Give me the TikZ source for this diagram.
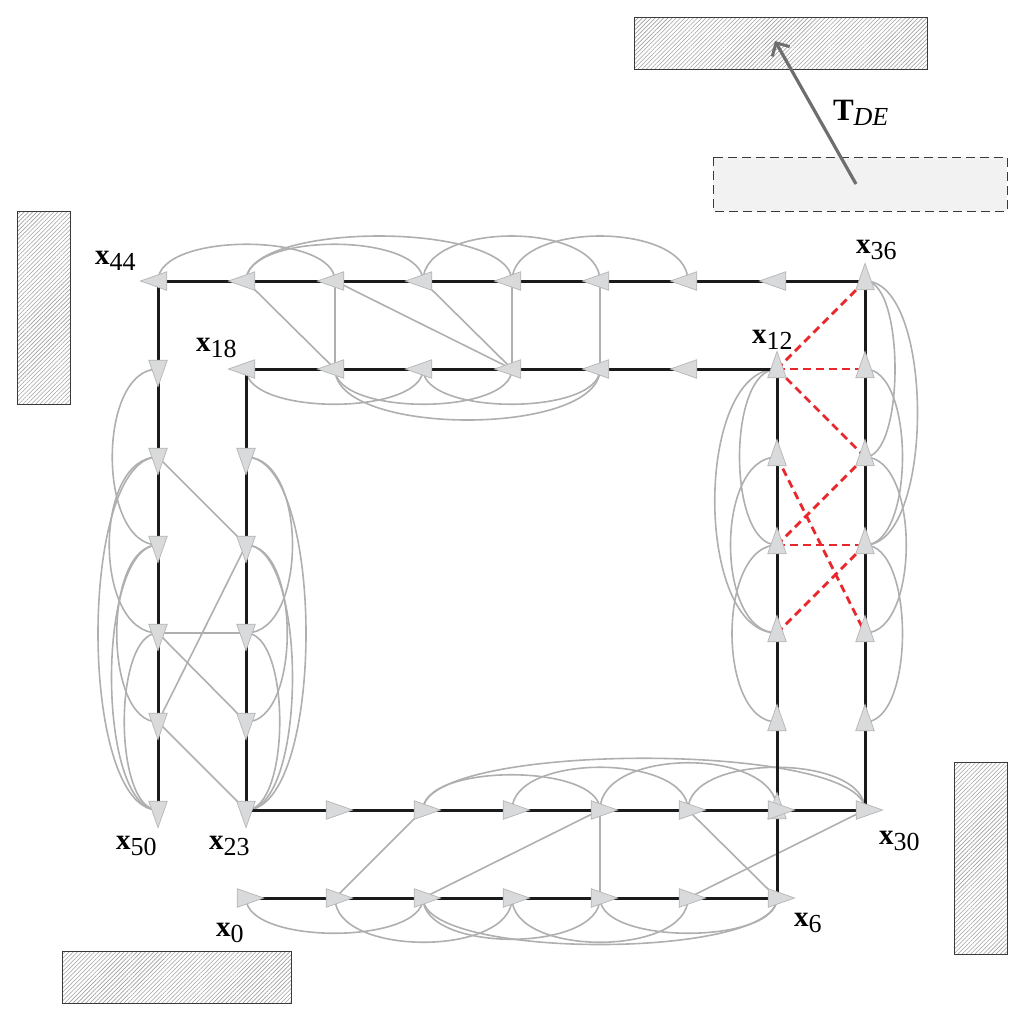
\documentclass[tikz,border=0pt]{standalone}
\usepackage{fontspec}
\setmainfont{Liberation Serif}
\usetikzlibrary{arrows.meta,patterns.meta}
\definecolor{arcgray}{HTML}{AFAFAF}
\definecolor{chainc}{HTML}{1A1A1A}
\definecolor{redd}{HTML}{E8262B}
\definecolor{trifill}{HTML}{D9DADB}
\definecolor{triedge}{HTML}{B5B5B5}
\definecolor{hatchc}{HTML}{A0A0A0}
\definecolor{boxedge}{HTML}{3A3A3A}
\definecolor{arrowc}{HTML}{6E6E6E}
\definecolor{ghostfill}{HTML}{F2F2F2}
\newcommand\gup[3]{\draw[arcg] (#1) .. controls +(0,-#3) and +(0,-#3) .. (#2);}
\newcommand\gdown[3]{\draw[arcg] (#1) .. controls +(0,#3) and +(0,#3) .. (#2);}
\newcommand\gleft[3]{\draw[arcg] (#1) .. controls +(-#3,0) and +(-#3,0) .. (#2);}
\newcommand\gright[3]{\draw[arcg] (#1) .. controls +(#3,0) and +(#3,0) .. (#2);}
\newcommand\xlab[1]{{\fontsize{29}{29}\selectfont\textbf{x}}\raisebox{-6pt}{\fontsize{26}{26}\selectfont #1}}
\begin{document}
\begin{tikzpicture}[x=1pt,y=-1pt,
  arcg/.style={draw=arcgray, line width=1.6pt},
  chain/.style={draw=chainc, line width=3pt},
  loopc/.style={draw=redd, line width=2.8pt, dash pattern=on 8pt off 5pt},
  graybar/.style={draw=arcgray, line width=1.6pt},
  hatchbox/.style={pattern={Lines[angle=45,distance=3pt,line width=0.6pt]}, pattern color=hatchc},
  boxline/.style={draw=boxedge, line width=1pt},
  lab/.style={anchor=base west, inner sep=0pt, outer sep=0pt},
  tri/.pic={\path[fill=trifill, draw=triedge, line width=0.7pt] (17.6,0) -- (-8.8,9.3) -- (-8.8,-9.3) -- cycle;}
]
\useasboundingbox (0,0) rectangle (1024,1021);

% ---- environment boxes ----
\path[hatchbox] (634,17) rectangle (927,69);
\draw[boxline] (634,17) rectangle (927,69);
\path[fill=ghostfill] (713,157) rectangle (1007,211);
\draw[boxline, dash pattern=on 9pt off 5pt] (713,157) rectangle (1007,211);
\path[hatchbox] (17,211) rectangle (70,404);
\draw[boxline] (17,211) rectangle (70,404);
\path[hatchbox] (954,762) rectangle (1007,954);
\draw[boxline] (954,762) rectangle (1007,954);
\path[hatchbox] (62,951) rectangle (291,1003);
\draw[boxline] (62,951) rectangle (291,1003);

% ---- transform arrow ----
\coordinate (tdeTail) at (856,184);
\coordinate (tdeTip) at (775,41);
\draw[draw=arrowc, line width=3.2pt, -{Straight Barb[length=10pt,width=20pt,line width=3pt]}] (tdeTail) -- (tdeTip);
\node[lab] (tde) at (833,120) {{\fontsize{31}{31}\selectfont\textbf{T}}\raisebox{-5pt}{\fontsize{26}{26}\selectfont\textit{DE}}};

% ---- poses ----
\coordinate (n0) at (246,898);
\coordinate (n1) at (335,898);
\coordinate (n2) at (423,898);
\coordinate (n3) at (512,898);
\coordinate (n4) at (600,898);
\coordinate (n5) at (688,898);
\coordinate (n6) at (777,898);
\coordinate (n7) at (777,810);
\coordinate (n8) at (777,722);
\coordinate (n9) at (777,633);
\coordinate (n10) at (777,545);
\coordinate (n11) at (777,457);
\coordinate (n12) at (777,369);
\coordinate (n13) at (688,369);
\coordinate (n14) at (600,369);
\coordinate (n15) at (512,369);
\coordinate (n16) at (423,369);
\coordinate (n17) at (335,369);
\coordinate (n18) at (246,369);
\coordinate (n19) at (246,457);
\coordinate (n20) at (246,545);
\coordinate (n21) at (246,633);
\coordinate (n22) at (246,722);
\coordinate (n23) at (246,810);
\coordinate (n24) at (335,810);
\coordinate (n25) at (423,810);
\coordinate (n26) at (512,810);
\coordinate (n27) at (600,810);
\coordinate (n28) at (688,810);
\coordinate (n29) at (777,810);
\coordinate (n30) at (865,810);
\coordinate (n31) at (865,722);
\coordinate (n32) at (865,633);
\coordinate (n33) at (865,545);
\coordinate (n34) at (865,457);
\coordinate (n35) at (865,369);
\coordinate (n36) at (865,281);
\coordinate (n37) at (777,281);
\coordinate (n38) at (688,281);
\coordinate (n39) at (600,281);
\coordinate (n40) at (512,281);
\coordinate (n41) at (423,281);
\coordinate (n42) at (335,281);
\coordinate (n43) at (246,281);
\coordinate (n44) at (158,281);
\coordinate (n45) at (158,369);
\coordinate (n46) at (158,457);
\coordinate (n47) at (158,545);
\coordinate (n48) at (158,633);
\coordinate (n49) at (158,722);
\coordinate (n50) at (158,810);

% ---- gray straight constraints ----
\foreach \a/\b in {43/17,42/17,42/15,41/15,40/15,39/14,46/20,20/49,48/21,48/22,49/23,1/25,2/27,27/4,28/6,5/30}
  \draw[graybar] (n\a) -- (n\b);

% ---- gray arcs ----
\gup{n44}{n42}{49} \gup{n43}{n41}{49} \gup{n43}{n40}{60} \gup{n41}{n39}{60} \gup{n40}{n38}{60}
\gdown{n18}{n16}{47} \gdown{n17}{n15}{47} \gdown{n16}{n14}{47} \gdown{n17}{n14}{68}
\gup{n25}{n27}{47} \gup{n25}{n30}{69} \gup{n26}{n28}{57} \gup{n27}{n29}{63} \gup{n28}{n30}{57}
\gdown{n0}{n2}{47} \gdown{n1}{n3}{59} \gdown{n2}{n4}{55} \gdown{n3}{n5}{59} \gdown{n4}{n6}{47} \gdown{n2}{n6}{62}
\gleft{n45}{n47}{61} \gleft{n46}{n48}{65} \gleft{n47}{n49}{55} \gleft{n48}{n50}{45} \gleft{n47}{n50}{62} \gleft{n46}{n50}{80}
\gright{n19}{n21}{62} \gright{n20}{n22}{55} \gright{n21}{n23}{45} \gright{n20}{n23}{62} \gright{n19}{n23}{80}
\gleft{n12}{n10}{50} \gleft{n12}{n9}{83} \gleft{n11}{n9}{62} \gleft{n10}{n8}{60}
\gright{n36}{n34}{40} \gright{n36}{n33}{70} \gright{n35}{n33}{50} \gright{n34}{n32}{55} \gright{n33}{n31}{50}

% ---- odometry chain ----
\foreach \a [count=\b] in {0,...,49}
  \draw[chain] (n\a) -- (n\b);

% ---- red loop closures ----
\foreach \a/\b in {36/12,12/35,12/34,34/10,11/32,10/33,33/9}
  \draw[loopc] (n\a) -- (n\b);

% ---- pose triangles ----
\foreach \i in {0,...,6} \pic[rotate=0] at (n\i) {tri};
\foreach \i in {7,...,12} \pic[rotate=90] at (n\i) {tri};
\foreach \i in {13,...,18} \pic[rotate=180] at (n\i) {tri};
\foreach \i in {19,...,23} \pic[rotate=270] at (n\i) {tri};
\foreach \i in {24,...,30} \pic[rotate=0] at (n\i) {tri};
\foreach \i in {31,...,36} \pic[rotate=90] at (n\i) {tri};
\foreach \i in {37,...,44} \pic[rotate=180] at (n\i) {tri};
\foreach \i in {45,...,50} \pic[rotate=270] at (n\i) {tri};

% ---- labels ----
\node[lab] (l44) at (95,264) {\xlab{44}};
\node[lab] (l18) at (196,351) {\xlab{18}};
\node[lab] (l36) at (856,253) {\xlab{36}};
\node[lab] (l12) at (752,343) {\xlab{12}};
\node[lab] (l50) at (116,849) {\xlab{50}};
\node[lab] (l23) at (209,849) {\xlab{23}};
\node[lab] (l30) at (879,844) {\xlab{30}};
\node[lab] (l6) at (794,926) {\xlab{6}};
\node[lab] (l0) at (216,936) {\xlab{0}};
\end{tikzpicture}
\end{document}
